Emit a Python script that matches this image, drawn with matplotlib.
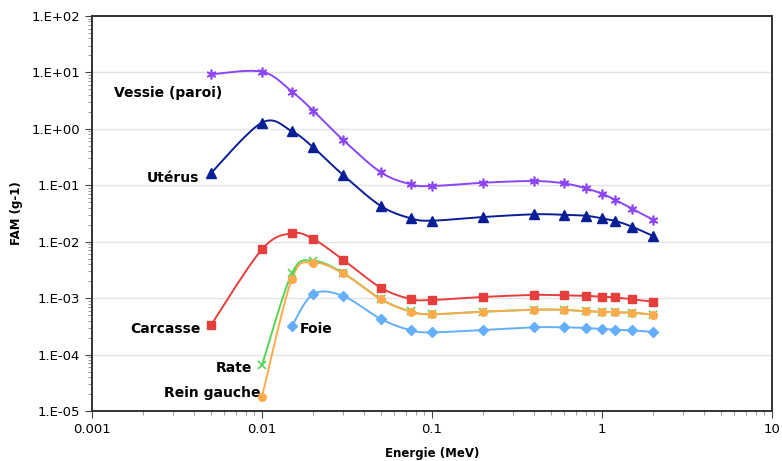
import numpy as np
import matplotlib
matplotlib.use('Agg')
import matplotlib.pyplot as plt
from matplotlib.ticker import FixedLocator, LogLocator, NullFormatter

# --- DATA
energie = [0.005, 0.01, 0.015, 0.02, 0.03, 0.05, 0.075, 0.1, 0.2, 0.4, 0.6, 0.8, 1.0, 1.2, 1.5, 2.0]

vessie = [9.27, 10.3, 4.56, 2.10, 0.635, 0.170, 0.104, 0.097, 0.111, 0.119, 0.108, 0.0885, 0.071, 0.0549, 0.0385, 0.0245]
uterus = [0.163, 1.29, 0.905, 0.471, 0.152, 0.043, 0.026, 0.0236, 0.0274, 0.0306, 0.0300, 0.0289, 0.026, 0.0233, 0.0185, 0.0126]
carcasse = [3.3e-4, 7.34e-3, 1.41e-2, 1.12e-2, 4.8e-3, 1.53e-3, 9.66e-4, 9.27e-4, 1.05e-3, 1.14e-3, 1.12e-3, 1.10e-3, 1.06e-3, 1.03e-3, 9.5e-4, 8.65e-4]

energie_rate = energie[1:]
rate = [6.5e-5, 2.75e-3, 4.6e-3, 2.8e-3, 9.6e-4, 5.8e-4, 5.2e-4, 5.75e-4, 6.24e-4, 6.2e-4, 5.85e-4, 5.75e-4, 5.6e-4, 5.52e-4, 5.1e-4]
rein_gauche = [1.79e-5, 2.21e-3, 4.25e-3, 2.75e-3, 9.5e-4, 5.75e-4, 5.18e-4, 5.75e-4, 6.24e-4, 6.2e-4, 5.85e-4, 5.75e-4, 5.6e-4, 5.52e-4, 5.1e-4]

energie_foie = energie[2:]
foie = [3.2e-4, 1.18e-3, 1.09e-3, 4.27e-4, 2.69e-4, 2.48e-4, 2.72e-4, 3.04e-4, 3.04e-4, 2.96e-4, 2.84e-4, 2.76e-4, 2.69e-4, 2.51e-4]

y_ticks = [1e-5, 1e-4, 1e-3, 1e-2, 1e-1, 1e0, 1e1, 1e2]
y_labels = ['1.E-05', '1.E-04', '1.E-03', '1.E-02', '1.E-01', '1.E+00', '1.E+01', '1.E+02']
x_ticks = [0.001, 0.01, 0.1, 1, 10]
x_labels = ['0.001', '0.01', '0.1', '1', '10']


def smooth(xs, ys, n=20):
    # Excel-like smoothed line: Catmull-Rom bezier in log display space
    u = np.log10(xs) * 169.75
    v = np.log10(ys) * 56.43
    pts = np.column_stack([u, v])
    out = [pts[0]]
    for i in range(len(pts) - 1):
        p0 = pts[i - 1] if i > 0 else pts[i]
        p1, p2 = pts[i], pts[i + 1]
        p3 = pts[i + 2] if i + 2 < len(pts) else pts[i + 1]
        c1 = p1 + (p2 - p0) / 6
        c2 = p2 - (p3 - p1) / 6
        t = np.linspace(0, 1, n)[1:, None]
        seg = ((1 - t) ** 3) * p1 + 3 * ((1 - t) ** 2) * t * c1 + 3 * (1 - t) * t ** 2 * c2 + t ** 3 * p2
        out.extend(seg)
    out = np.array(out)
    return 10 ** (out[:, 0] / 169.75), 10 ** (out[:, 1] / 56.43)


series = [
    (energie, vessie, '#8B45F5', dict(marker=(6, 2, 0), ms=7, mew=1.2)),
    (energie, uterus, '#0A1E96', dict(marker='^', ms=6.5)),
    (energie, carcasse, '#E43F3D', dict(marker='s', ms=6)),
    (energie_rate, rate, '#55D455', dict(marker='x', ms=6, mew=1.2)),
    (energie_rate, rein_gauche, '#FFAA4C', dict(marker='o', ms=5.5)),
    (energie_foie, foie, '#64AEFA', dict(marker='D', ms=5)),
]

fig = plt.figure(figsize=(7.82, 4.61), dpi=100)
ax = fig.add_axes([92 / 782, 50 / 461, 680 / 782, 395 / 461])

for xs, ys, col, mk in series:
    sx, sy = smooth(xs, ys)
    ax.plot(sx, sy, color=col, lw=1.4, zorder=3)
    ax.plot(xs, ys, ls='none', color=col, mec=col, zorder=4, **mk)

ax.set_xscale('log')
ax.set_yscale('log')
ax.set_xlim(0.001, 10)
ax.set_ylim(1e-5, 1e2)

ax.yaxis.set_major_locator(FixedLocator(y_ticks))
ax.set_yticklabels(y_labels)
ax.xaxis.set_major_locator(FixedLocator(x_ticks))
ax.set_xticklabels(x_labels)
ax.xaxis.set_minor_locator(LogLocator(base=10, subs=np.arange(2, 10), numticks=20))
ax.yaxis.set_minor_locator(LogLocator(base=10, subs=np.arange(2, 10), numticks=20))
ax.xaxis.set_minor_formatter(NullFormatter())
ax.yaxis.set_minor_formatter(NullFormatter())
ax.tick_params(which='major', direction='out', length=5, width=0.8, colors='#444444',
               labelcolor='black', labelsize=9.5)
ax.tick_params(which='minor', direction='out', length=3, width=0.6, colors='#888888')

ax.grid(axis='y', which='major', color='#e4e4e4', lw=1, zorder=0)
for s in ax.spines.values():
    s.set_color('#333333')
    s.set_linewidth(1.4)

ax.set_xlabel('Energie (MeV)', fontsize=8.5, fontweight='bold', labelpad=8)
ax.set_ylabel('FAM (g-1)', fontsize=8.5, fontweight='bold', labelpad=6)

lab = dict(fontsize=10, fontweight='bold', ha='left', va='center', transform=None)
def put(text, px, py):
    ax.text(px / 782, 1 - py / 461, text, fontsize=10, fontweight='bold',
            ha='left', va='center', transform=fig.transFigure)

put('Vessie (paroi)', 114, 93)
put('Utérus', 147, 178)
put('Carcasse', 130, 329)
put('Foie', 300, 329)
put('Rate', 216, 368)
put('Rein gauche', 164, 393)

fig.savefig('out.png', dpi=100)
